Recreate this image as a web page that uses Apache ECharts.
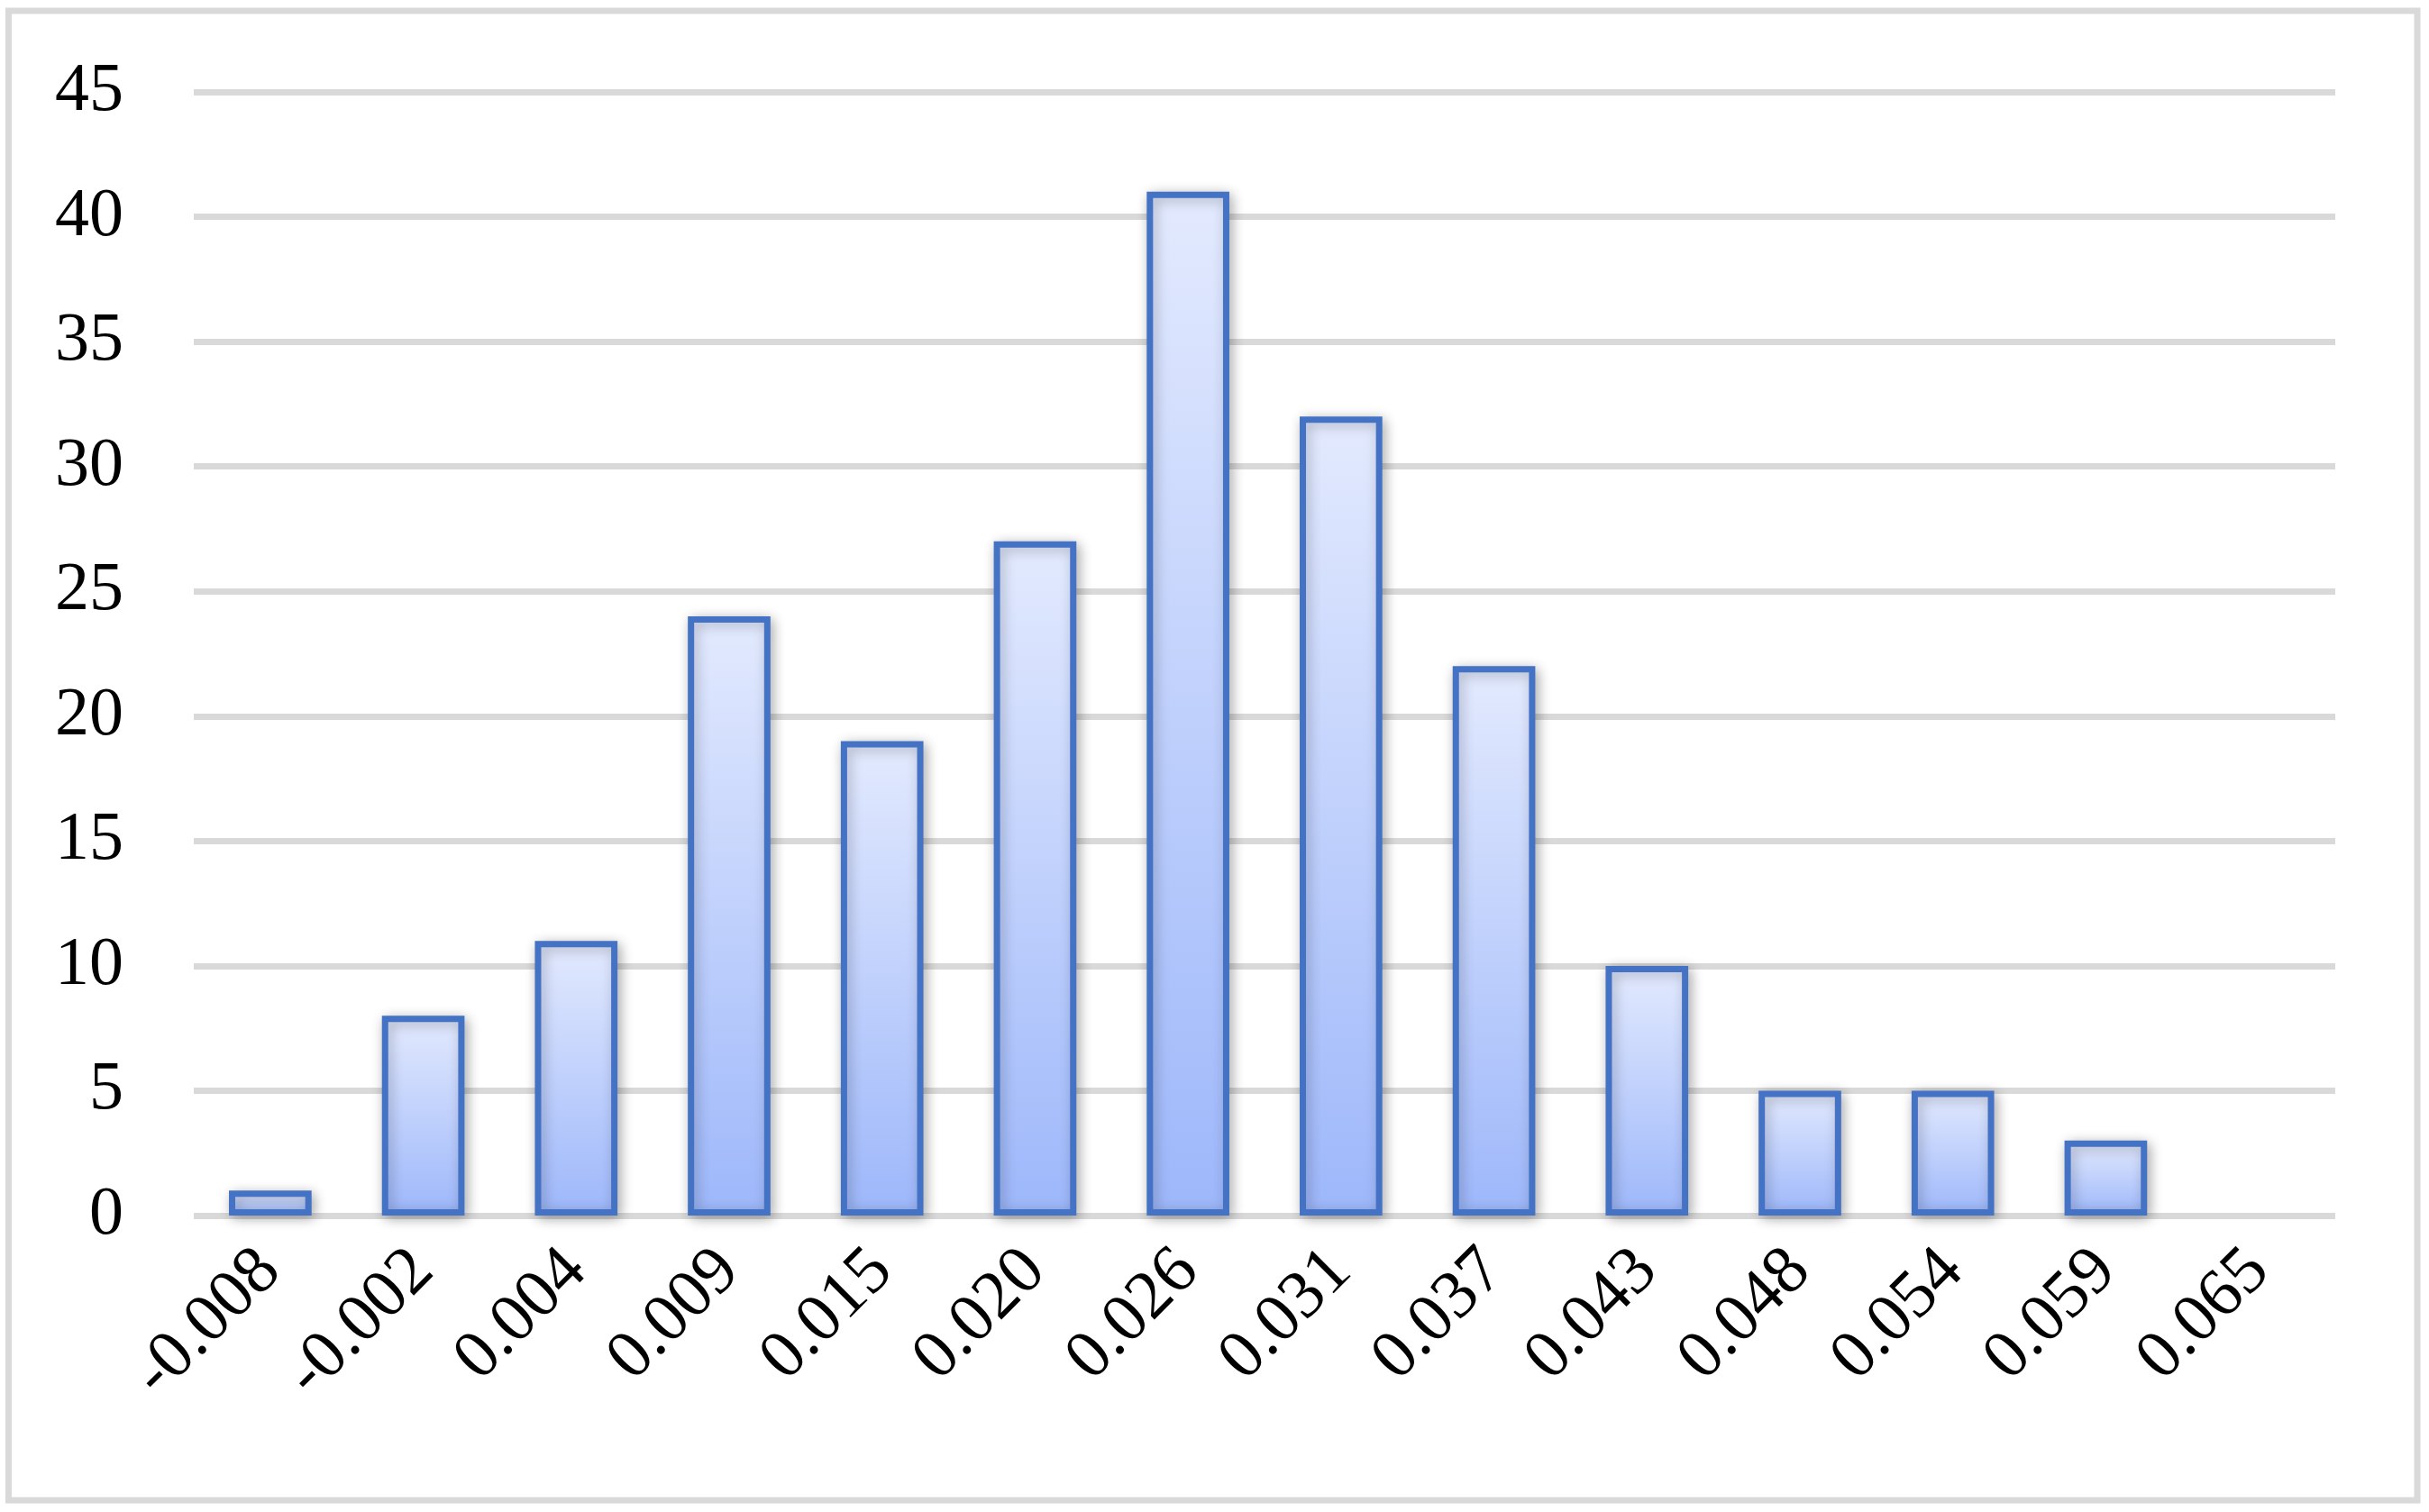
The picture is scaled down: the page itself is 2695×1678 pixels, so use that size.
<!DOCTYPE html>
<html lang="en">
  <head>
    <meta charset="UTF-8" />
    <title>Histogram</title>
    <script src="https://cdn.jsdelivr.net/npm/echarts@6/dist/echarts.min.js"></script>
    <style>
      html, body { margin: 0; padding: 0; background: #fff; }
    </style>
  </head>
  <body>
    <div id="main" style="width: 2695px; height: 1678px"></div>

    <script>
      // bin labels (x axis)
      const bins = ['-0.008', '-0.002', '0.004', '0.009', '0.015', '0.020', '0.026',
        '0.031', '0.037', '0.043', '0.048', '0.054', '0.059', '0.065']
      // frequency per bin
      const counts = [1, 8, 11, 24, 19, 27, 41, 32, 22, 10, 5, 5, 3, 0]
      // y axis range
      const yMin = 0
      const yMax = 45
      const yStep = 5

      const font = 'Liberation Serif'
      const chart = echarts.init(document.getElementById('main'))

      const options = {
        animation: false,
        backgroundColor: '#fff',
        // outer frame of the chart area
        graphic: [
          {
            type: 'rect',
            shape: { x: 9.5, y: 12, width: 2672.5, height: 1653 },
            style: { fill: 'none', stroke: '#d9d9d9', lineWidth: 7 },
            silent: true,
          },
        ],
        grid: {
          left: 215,
          right: 104,
          top: 102,
          bottom: 329,
        },
        xAxis: {
          type: 'category',
          data: bins,
          axisLine: { show: false },
          axisTick: { show: false },
          axisLabel: {
            rotate: 45,
            margin: 50,
            fontFamily: font,
            fontSize: 76,
            color: '#000',
            interval: 0,
            padding: [0, 0, 0, 0],
          },
        },
        yAxis: {
          type: 'value',
          min: yMin,
          max: yMax,
          interval: yStep,
          axisLine: { show: false },
          axisTick: { show: false },
          axisLabel: {
            margin: 78,
            fontFamily: font,
            fontSize: 76,
            color: '#000',
          },
          splitLine: {
            lineStyle: { color: '#d9d9d9', width: 7 },
          },
        },
        series: [
          {
            type: 'bar',
            // empty bins get no outline
            data: counts.map(v => ({ value: v, itemStyle: v ? {} : { borderWidth: 0, shadowBlur: 0 } })),
            barWidth: '54%',
            itemStyle: {
              color: new echarts.graphic.LinearGradient(0, 0, 0, 1, [
                { offset: 0, color: '#e3eafe' },
                { offset: 1, color: '#9db7fa' },
              ]),
              borderColor: '#4472c4',
              borderWidth: 7,
              shadowColor: 'rgba(0,0,0,0.28)',
              shadowBlur: 14,
              shadowOffsetX: 3,
              shadowOffsetY: 3,
            },
          },
        ],
      }
      chart.setOption(options)
    </script>
  </body>
</html>
